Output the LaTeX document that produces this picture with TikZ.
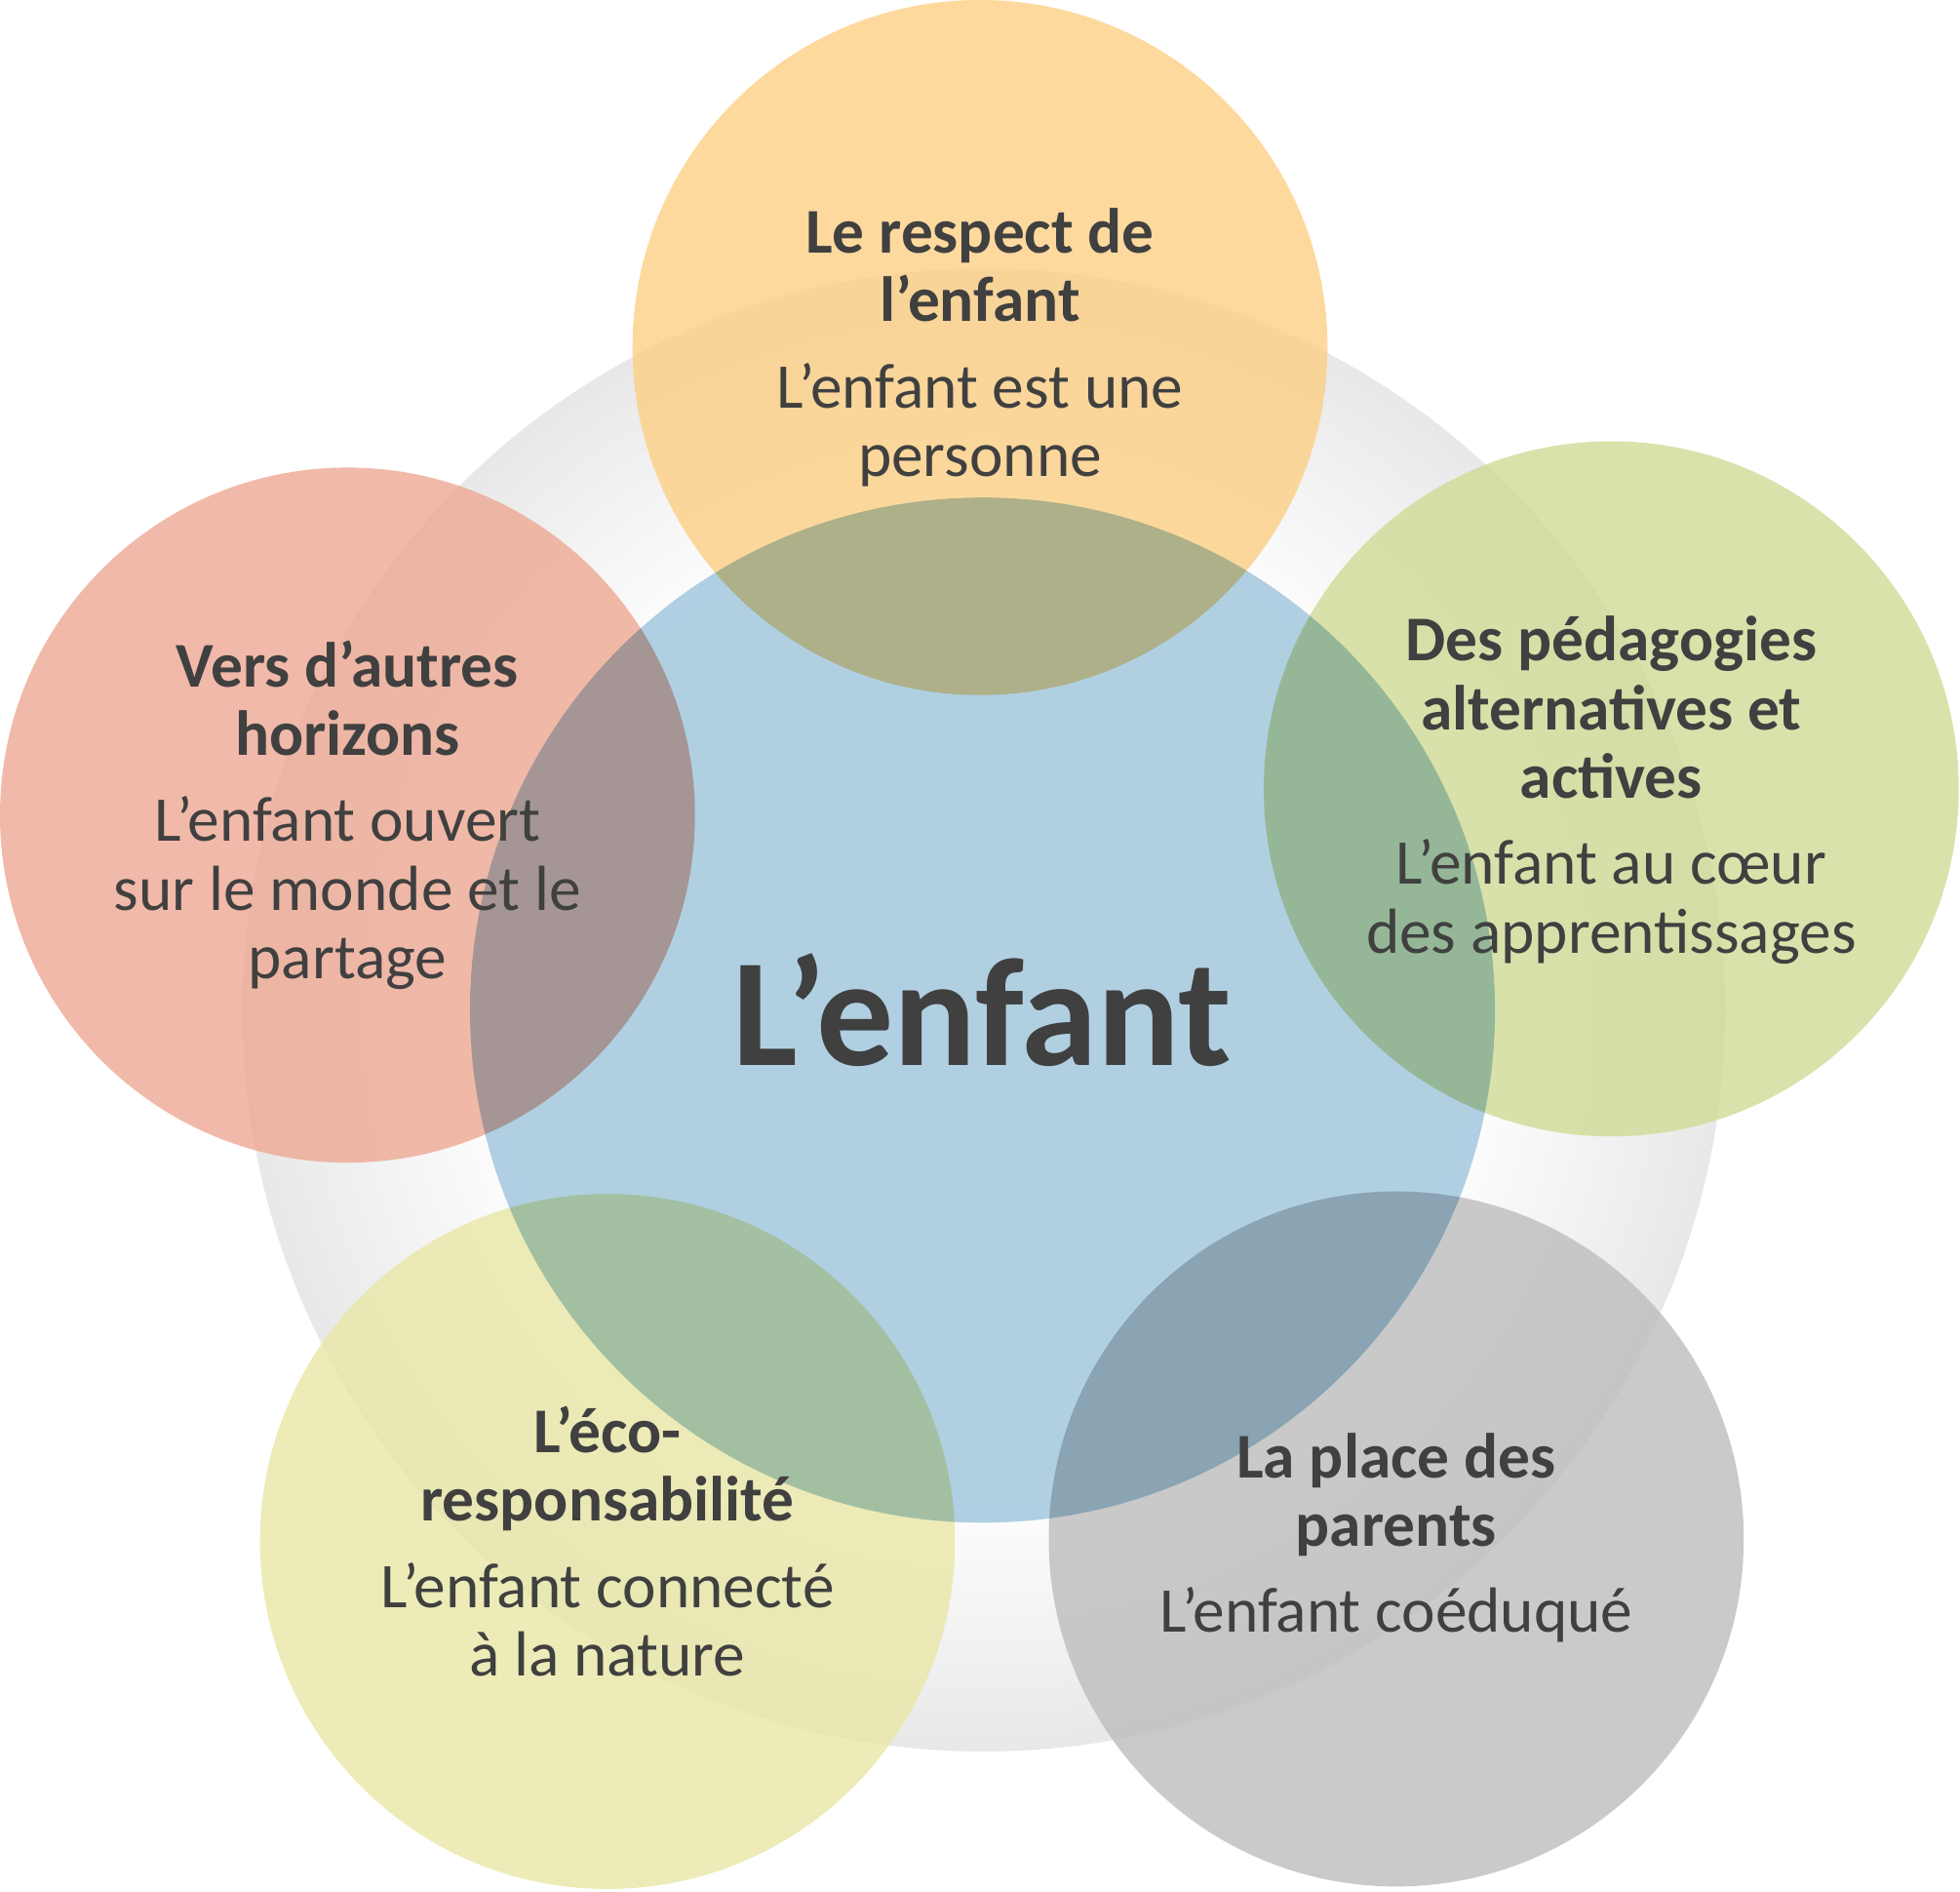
\documentclass[tikz,border=0pt]{standalone}
\usepackage{fontspec}
\setmainfont{Carlito}
\definecolor{txt}{HTML}{404040}
\definecolor{cblue}{HTML}{A3C8DE}
\definecolor{corange}{HTML}{FCCF85}
\definecolor{cgreen}{HTML}{D0DB96}
\definecolor{cgrey}{HTML}{BDBDBD}
\definecolor{cyellow}{HTML}{E9E7A6}
\definecolor{cred}{HTML}{EDA893}
\pgfdeclareradialshading{ringshade}{\pgfpoint{0cm}{0cm}}{color(0bp)=(white); color(16bp)=(white); color(25bp)=(black!9); color(50bp)=(black!9)}
\tikzset{
 petal/.style={fill opacity=0.8,draw=none},
 lab/.style={text=txt,align=center,font=\fontsize{14.5}{15.6}\selectfont},
}
\newcommand{\hd}[1]{\textbf{#1}}
\begin{document}
\begin{tikzpicture}[x=0.01cm,y=-0.01cm]
\useasboundingbox (0,0) rectangle (1568,1513);
\shade[shading=ringshade] (787,808) circle (593);
\begin{scope}[blend group=multiply]
\fill[cblue,petal,fill opacity=0.85] (786,808) circle (410);
\fill[corange,petal] (784,278) circle (278);
\fill[cgreen,petal] (1289,631) circle (278);
\fill[cgrey,petal] (1117,1231) circle (278);
\fill[cyellow,petal] (486,1233) circle (278);
\fill[cred,petal] (278,652) circle (278);
\end{scope}
\node[lab,font=\fontsize{35}{40}\selectfont\bfseries] (c) at (786,808) {L’enfant};
\node[lab] (t) at (784,278) {\hd{Le respect de}\\\hd{l’enfant}\\[4pt]L’enfant est une\\personne};
\node[lab] (r) at (1289,632) {\hd{Des pédagogies}\\\hd{alternatives et}\\\hd{actives}\\[4pt]L’enfant au cœur\\des apprentissages};
\node[lab] (br) at (1117,1230) {\hd{La place des}\\\hd{parents}\\[4pt]L’enfant coéduqué};
\node[lab] (bl) at (486,1233) {\hd{L’éco-}\\\hd{responsabilité}\\[4pt]L’enfant connecté\\à la nature};
\node[lab] (l) at (278,652) {\hd{Vers d’autres}\\\hd{horizons}\\[4pt]L’enfant ouvert\\sur le monde et le\\partage};
\end{tikzpicture}
\end{document}
